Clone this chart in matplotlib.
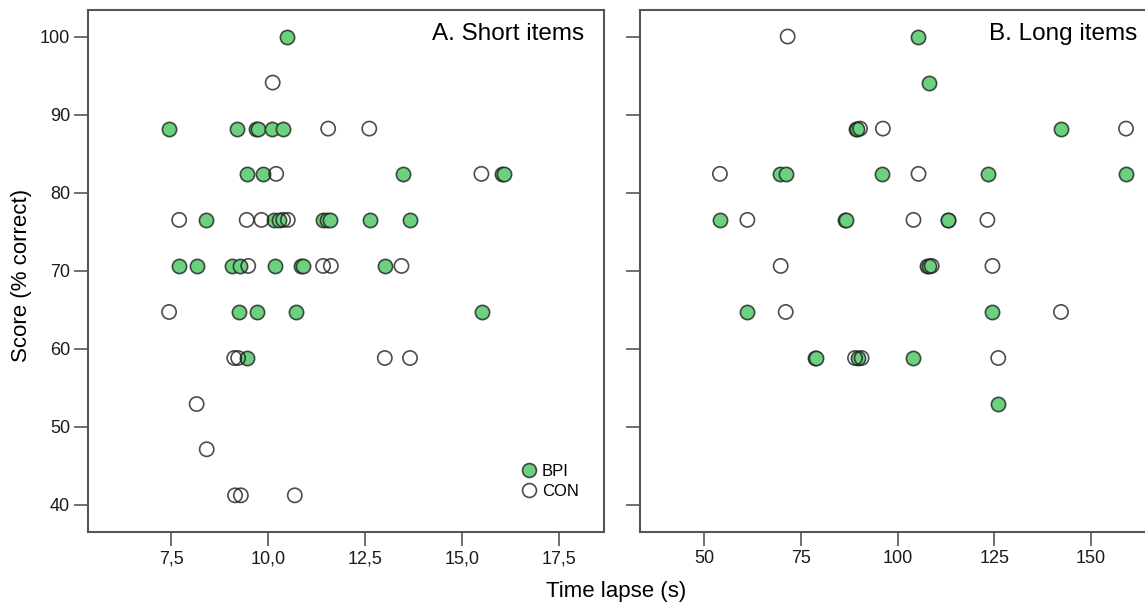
import matplotlib
matplotlib.use("Agg")
import matplotlib.pyplot as plt
from matplotlib.ticker import FuncFormatter
from matplotlib.lines import Line2D

plt.rcParams["font.family"] = ["Liberation Sans", "DejaVu Sans"]

# Panel A: short items (time in s, score in % correct)
short_bpi_x = [10.47,
               7.44, 9.18, 9.68, 9.74, 10.08, 10.38,
               9.45, 9.85, 13.46, 16.02, 16.08,
               8.39, 10.15, 10.28, 11.42, 11.50, 11.60, 12.62, 13.65,
               7.70, 8.15, 9.05, 9.27, 10.17, 10.85, 10.90, 13.00,
               9.24, 9.70, 10.70, 15.51,
               9.45]
short_bpi_y = [100.0,
               88.2, 88.2, 88.2, 88.2, 88.2, 88.2,
               82.4, 82.4, 82.4, 82.4, 82.4,
               76.5, 76.5, 76.5, 76.5, 76.5, 76.5, 76.5, 76.5,
               70.6, 70.6, 70.6, 70.6, 70.6, 70.6, 70.6, 70.6,
               64.7, 64.7, 64.7, 64.7,
               58.8]
short_con_x = [10.11,
               11.54, 12.60,
               10.20, 15.49,
               7.70, 9.44, 9.82, 10.38, 10.50,
               9.48, 11.41, 11.61, 13.43,
               7.44,
               9.12, 9.22, 13.00, 13.65,
               8.15,
               8.41,
               9.14, 9.29, 10.68]
short_con_y = [94.1,
               88.2, 88.2,
               82.4, 82.4,
               76.5, 76.5, 76.5, 76.5, 76.5,
               70.6, 70.6, 70.6, 70.6,
               64.7,
               58.8, 58.8, 58.8, 58.8,
               52.9,
               47.1,
               41.2, 41.2, 41.2]

# Panel B: long items
long_bpi_x = [105.4, 108.2,
              89.2, 89.6, 142.2,
              69.6, 71.2, 96.1, 123.3, 159.0,
              54.1, 86.5, 86.7, 112.9, 113.1,
              107.5, 108.0,
              61.2, 124.5,
              78.6, 78.8, 89.9, 104.1,
              126.0]
long_bpi_y = [100.0, 94.1,
              88.2, 88.2, 88.2,
              82.4, 82.4, 82.4, 82.4, 82.4,
              76.5, 76.5, 76.5, 76.5, 76.5,
              70.6, 70.6,
              64.7, 64.7,
              58.8, 58.8, 58.8, 58.8,
              52.9]
long_con_x = [71.6,
              90.3, 96.2, 159.0,
              54.1, 105.4,
              61.2, 104.1, 123.2,
              69.8, 108.8, 124.5,
              71.1, 142.2,
              89.0, 90.7, 126.0]
long_con_y = [100.0,
              88.2, 88.2, 88.2,
              82.4, 82.4,
              76.5, 76.5, 76.5,
              70.6, 70.6, 70.6,
              64.7, 64.7,
              58.8, 58.8, 58.8]

y_ticks = [40, 50, 60, 70, 80, 90, 100]
short_ticks = [7.5, 10.0, 12.5, 15.0, 17.5]
long_ticks = [50, 75, 100, 125, 150]

GREEN = "#6BD17E"
EDGE = (0.12, 0.12, 0.12, 0.8)
SPINE = "#555555"

fig = plt.figure(figsize=(11.45, 6.11), dpi=100)
ax1 = fig.add_axes([88 / 1145, 1 - 532 / 611, 516 / 1145, 522 / 611])
ax2 = fig.add_axes([640 / 1145, 1 - 532 / 611, 510 / 1145, 522 / 611])

comma = FuncFormatter(lambda v, p: f"{v:.1f}".replace(".", ","))


def panel(ax, bx, by, cx, cy):
    ax.scatter(bx, by, s=105, facecolor=GREEN, edgecolor=EDGE, linewidth=1.2, zorder=3)
    ax.scatter(cx, cy, s=105, facecolor="none", edgecolor=EDGE, linewidth=1.2, zorder=4)
    for sp in ax.spines.values():
        sp.set_color(SPINE)
        sp.set_linewidth(1.5)
    ax.set_ylim(36.5, 103.4)
    ax.set_yticks(y_ticks)
    ax.tick_params(direction="out", length=10, width=1.2, color=SPINE,
                   labelsize=13, labelcolor="#1a1a1a", pad=3)


panel(ax1, short_bpi_x, short_bpi_y, short_con_x, short_con_y)
ax1.set_xlim(5.35, 18.65)
ax1.set_xticks(short_ticks)
ax1.xaxis.set_major_formatter(comma)
ax1.text(0.961, 0.975, "A. Short items", transform=ax1.transAxes,
         ha="right", va="top", fontsize=17.5)

panel(ax2, long_bpi_x, long_bpi_y, long_con_x, long_con_y)
ax2.set_xlim(33.46, 165.2)
ax2.set_xticks(long_ticks)
ax2.set_yticklabels([])
ax2.spines["right"].set_visible(False)
ax2.text(0.975, 0.975, "B. Long items", transform=ax2.transAxes,
         ha="right", va="top", fontsize=17.5)

handles = [
    Line2D([], [], ls="none", marker="o", markersize=10, markerfacecolor=GREEN,
           markeredgecolor=EDGE, markeredgewidth=1.2, label="BPI"),
    Line2D([], [], ls="none", marker="o", markersize=10, markerfacecolor="none",
           markeredgecolor=EDGE, markeredgewidth=1.2, label="CON"),
]
ax1.legend(handles=handles, loc="center left", bbox_to_anchor=(0.82, 0.097),
           frameon=False, fontsize=12, handletextpad=0.15, labelspacing=0.3,
           borderpad=0, handlelength=1.2)

fig.text(616 / 1145, 1 - 592 / 611, "Time lapse (s)", ha="center", va="center", fontsize=16)
fig.text(22 / 1145, 1 - 275 / 611, "Score (% correct)", ha="center", va="center",
         rotation=90, fontsize=16)

fig.savefig("out.png", dpi=100)
